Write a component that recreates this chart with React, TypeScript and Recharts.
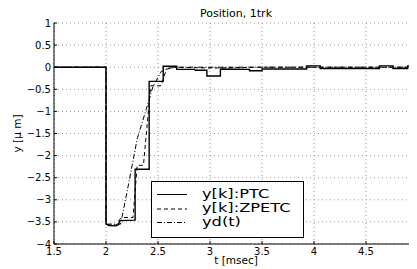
import React from 'react';
import { LineChart, Line, XAxis, YAxis, CartesianGrid, Legend } from 'recharts';

const title = 'Position, 1trk';
const xLabel = 't [msec]';
const yLabel = 'y [μ m]';
const xTicks = [1.5, 2, 2.5, 3, 3.5, 4, 4.5, 5];
const yTicks = [-4, -3.5, -3, -2.5, -2, -1.5, -1, -0.5, 0, 0.5, 1];

const seriesNames = ['y[k]:PTC', 'y[k]:ZPETC', 'yd(t)'];

const ptcT = [1.5, 2.0, 2.0, 2.03, 2.1, 2.12, 2.135, 2.28, 2.28, 2.415, 2.415, 2.55, 2.55, 2.68, 2.68, 2.85, 2.86, 2.97, 2.97, 3.1, 3.1, 3.38, 3.38, 3.5, 3.5, 3.93, 3.93, 4.06, 4.06, 4.63, 4.63, 4.76, 4.76, 4.9, 4.9, 5.0];
const ptcY = [0, 0, -3.55, -3.58, -3.59, -3.56, -3.47, -3.46, -2.31, -2.31, -0.32, -0.32, 0.02, 0.02, -0.05, -0.05, -0.07, -0.07, -0.2, -0.2, -0.04, -0.05, -0.08, -0.08, -0.04, -0.04, 0.03, 0.03, -0.03, -0.03, 0.03, 0.03, -0.03, -0.03, 0.03, 0.03];

const zpetcT = [1.5, 2.0, 2.0, 2.03, 2.1, 2.13, 2.15, 2.26, 2.3, 2.36, 2.43, 2.53, 2.58, 2.65, 3.0, 3.5, 4.0, 5.0];
const zpetcY = [0, 0, -3.55, -3.57, -3.57, -3.45, -3.4, -3.4, -2.22, -2.22, -0.42, -0.42, -0.05, 0, -0.02, 0, 0, 0];

const ydT = [1.5, 2.0, 2.0, 2.14, 2.2, 2.3, 2.4, 2.45, 2.53, 2.6, 2.7, 5.0];
const ydY = [0, 0, -3.55, -3.55, -2.85, -1.62, -0.85, -0.45, -0.1, -0.02, 0, 0];

const toData = (ts: number[], ys: number[]) => ts.map((t, i) => ({ t, y: ys[i] }));
const ptcData = toData(ptcT, ptcY);
const zpetcData = toData(zpetcT, zpetcY);
const ydData = toData(ydT, ydY);

const dashByName: Record<string, string | undefined> = {
  'y[k]:PTC': undefined,
  'y[k]:ZPETC': '4 3',
  'yd(t)': '5 2 1 2',
};

const FONT = '"DejaVu Sans", sans-serif';
const fmt = (v: number) => String(v).replace('-', '\u2212');

const legendLineY = [13.5, 28, 41.5];
const legendTextY = [17, 31, 45];

const LegendBox = (props: any) => {
  const payload = props.payload || [];
  return (
    <svg width={153} height={57} style={{ display: 'block' }}>
      <rect x={0.5} y={0.5} width={152} height={56} fill="#fff" stroke="#000" strokeWidth={1} />
      {payload.map((e: any, i: number) => (
        <g key={i}>
          <line x1={6} x2={36} y1={legendLineY[i]} y2={legendLineY[i]} stroke="#000" strokeWidth={1} strokeDasharray={dashByName[e.value]} />
          <text x={0} y={0} transform={`translate(51 ${legendTextY[i]}) scale(1.25 1)`} fontSize={13} fontFamily={FONT} fill="#000">{e.value}</text>
        </g>
      ))}
    </svg>
  );
};

export default function App() {
  const tickStyle = { fontSize: 10, fontFamily: FONT, fill: '#000' };
  return (
    <div style={{ width: 409, height: 261, overflow: 'hidden', position: 'relative', background: '#fff' }}>
      <LineChart width={412} height={261} margin={{ top: 15, right: 2, bottom: 0, left: 0 }}>
        <CartesianGrid stroke="#999" strokeDasharray="1 3" />
        <XAxis
          dataKey="t"
          type="number"
          domain={[1.5, 5]}
          ticks={xTicks}
          interval={0}
          height={25}
          tickFormatter={fmt}
          tick={tickStyle}
          tickSize={-3}
          tickMargin={7}
          axisLine={{ stroke: '#000' }}
          tickLine={{ stroke: '#000' }}
          allowDataOverflow
          label={{ value: xLabel, position: 'insideBottom', offset: 5, style: { fontSize: 10.5, fontFamily: FONT, fill: '#000' } }}
        />
        <XAxis
          xAxisId="top"
          dataKey="t"
          type="number"
          orientation="top"
          domain={[1.5, 5]}
          ticks={xTicks}
          interval={0}
          height={0}
          tick={false}
          tickSize={-3}
          axisLine={{ stroke: '#000' }}
          tickLine={{ stroke: '#000' }}
          allowDataOverflow
        />
        <YAxis
          type="number"
          domain={[-4, 1]}
          ticks={yTicks}
          interval={0}
          width={46}
          tickFormatter={fmt}
          tick={tickStyle}
          tickSize={-3}
          tickMargin={6}
          axisLine={{ stroke: '#000' }}
          tickLine={{ stroke: '#000' }}
          allowDataOverflow
          label={{ value: yLabel, angle: -90, position: 'insideLeft', offset: 9, style: { fontSize: 10.5, fontFamily: FONT, fill: '#000', textAnchor: 'middle' } }}
        />
        <Legend
          layout="vertical"
          align="center"
          verticalAlign="middle"
          content={<LegendBox />}
          wrapperStyle={{ left: 143, top: 173, width: 153, height: 57 }}
        />
        <Line data={ptcData} dataKey="y" name={seriesNames[0]} type="linear" stroke="#000" strokeWidth={1.4} dot={false} activeDot={false} isAnimationActive={false} />
        <Line data={zpetcData} dataKey="y" name={seriesNames[1]} type="linear" stroke="#000" strokeWidth={1} strokeDasharray="4 3" dot={false} activeDot={false} isAnimationActive={false} />
        <Line data={ydData} dataKey="y" name={seriesNames[2]} type="linear" stroke="#000" strokeWidth={1} strokeDasharray="5 2 1 2" dot={false} activeDot={false} isAnimationActive={false} />
      </LineChart>
      <svg width={409} height={14} style={{ position: 'absolute', left: 0, top: 0, pointerEvents: 'none' }}>
        <text x={228} y={8.5} textAnchor="middle" fontSize={11} fontFamily={FONT} fill="#000">{title}</text>
      </svg>
    </div>
  );
}
